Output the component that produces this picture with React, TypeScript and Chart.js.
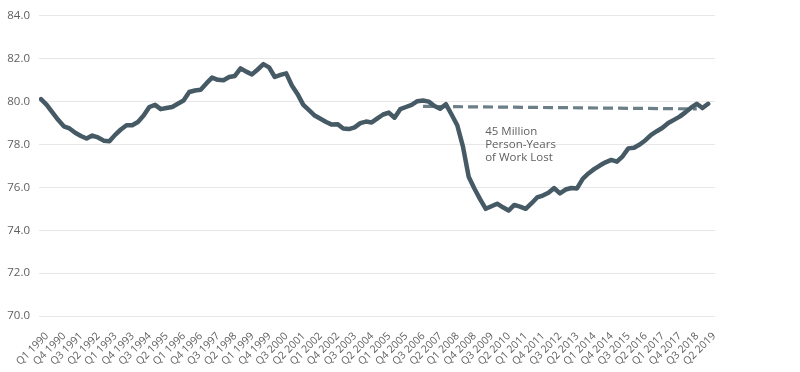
import React, { useEffect, useRef } from "react";
import { Chart, registerables } from "chart.js";

Chart.register(...registerables);

const firstYear = 1990;
const quarterCount = 118;
const quarterLabels: string[] = Array.from(
  { length: quarterCount },
  (_, i) => `Q${(i % 4) + 1} ${firstYear + Math.floor(i / 4)}`
);

// Prime-age employment rate (%), quarterly, Q1 1990 – Q2 2019
const employmentRate: number[] = [
  80.12, 79.85, 79.5, 79.15, 78.85, 78.75, 78.55, 78.4, 78.28, 78.42,
  78.33, 78.18, 78.15, 78.45, 78.7, 78.9, 78.9, 79.05, 79.35, 79.75,
  79.85, 79.65, 79.7, 79.75, 79.9, 80.05, 80.45, 80.52, 80.55, 80.85,
  81.12, 81.02, 81.0, 81.15, 81.2, 81.55, 81.4, 81.27, 81.5, 81.75,
  81.6, 81.15, 81.25, 81.32, 80.75, 80.35, 79.85, 79.6, 79.35, 79.2,
  79.05, 78.93, 78.95, 78.75, 78.72, 78.8, 79.0, 79.07, 79.03, 79.22,
  79.4, 79.49, 79.25, 79.65, 79.75, 79.85, 80.02, 80.05, 80.0, 79.8,
  79.67, 79.88, 79.4, 78.9, 77.9, 76.5, 75.95, 75.45, 75.0, 75.12,
  75.24, 75.07, 74.92, 75.18, 75.1, 75.0, 75.25, 75.53, 75.62, 75.75,
  75.97, 75.72, 75.9, 75.97, 75.95, 76.4, 76.65, 76.85, 77.02, 77.17,
  77.28, 77.2, 77.45, 77.82, 77.85, 78.0, 78.2, 78.45, 78.62, 78.78,
  79.0, 79.15, 79.3, 79.5, 79.72, 79.9, 79.7, 79.9,
];

// Pre-recession trend line (dashed)
const trendQuarters: string[] = ["Q4 2006", "Q4 2018"];
const trendValues: number[] = [79.78, 79.66];

const tickLabels: string[] = [
  "Q1 1990", "Q4 1990", "Q3 1991", "Q2 1992", "Q1 1993", "Q4 1993", "Q3 1994", "Q2 1995",
  "Q1 1996", "Q4 1996", "Q3 1997", "Q2 1998", "Q1 1999", "Q4 1999", "Q3 2000", "Q2 2001",
  "Q1 2002", "Q4 2002", "Q3 2003", "Q2 2004", "Q1 2005", "Q4 2005", "Q3 2006", "Q2 2007",
  "Q1 2008", "Q4 2008", "Q3 2009", "Q2 2010", "Q1 2011", "Q4 2011", "Q3 2012", "Q2 2013",
  "Q1 2014", "Q4 2014", "Q3 2015", "Q2 2016", "Q1 2017", "Q4 2017", "Q3 2018", "Q2 2019",
];

const yMin = 70;
const yMax = 84;
const yStep = 2;

const annotationLines: string[] = ["45 Million", "Person-Years", "of Work Lost"];
const annotationX = 77.9; // in quarter index units
const annotationY = 78.58; // in value units

const FONT = "'Open Sans', 'DejaVu Sans', sans-serif";
const TEXT_COLOR = "#5f5f5f";

export default function App() {
  const canvasRef = useRef<HTMLCanvasElement | null>(null);

  useEffect(() => {
    document.body.style.margin = "0";
    const canvas = canvasRef.current;
    if (!canvas) return;

    const tickIdx = tickLabels.map((l) => quarterLabels.indexOf(l));

    const annotationPlugin = {
      id: "textAnnotation",
      afterDatasetsDraw(chart: any) {
        const ctx = chart.ctx;
        const xs = chart.scales.x;
        const ys = chart.scales.y;
        const px = xs.getPixelForValue(annotationX);
        const py = ys.getPixelForValue(annotationY);
        ctx.save();
        ctx.font = `11.5px ${FONT}`;
        ctx.fillStyle = TEXT_COLOR;
        ctx.textAlign = "left";
        ctx.textBaseline = "middle";
        annotationLines.forEach((line, k) => {
          ctx.fillText(line, px, py + k * 13);
        });
        ctx.restore();
      },
    };

    const chart = new Chart(canvas, {
      type: "line",
      data: {
        datasets: [
          {
            data: employmentRate.map((v, i) => ({ x: i, y: v })),
            borderColor: "#455a64",
            borderWidth: 4.5,
            pointRadius: 0,
            tension: 0,
            borderJoinStyle: "round",
            borderCapStyle: "round",
            fill: false,
          },
          {
            data: trendQuarters.map((q, k) => ({
              x: quarterLabels.indexOf(q),
              y: trendValues[k],
            })),
            borderColor: "#6c7e87",
            borderWidth: 3.2,
            borderDash: [10, 5],
            pointRadius: 0,
            tension: 0,
            fill: false,
          },
        ],
      },
      options: {
        responsive: false,
        animation: false,
        layout: { padding: { top: 14, right: 85, left: 0, bottom: 0 } },
        plugins: {
          legend: { display: false },
          tooltip: { enabled: false },
        },
        scales: {
          x: {
            type: "linear",
            min: -0.35,
            max: 118.2,
            afterBuildTicks: (s: any) => {
              s.ticks = tickIdx.map((v) => ({ value: v }));
            },
            afterFit: (s: any) => {
              s.height = 56;
            },
            grid: { display: false },
            border: { display: false },
            ticks: {
              autoSkip: false,
              minRotation: 45,
              maxRotation: 45,
              padding: 6,
              labelOffset: 6,
              color: TEXT_COLOR,
              font: { family: FONT, size: 10.5 },
              callback: (v: any) => quarterLabels[Math.round(Number(v))] ?? "",
            },
          },
          y: {
            min: yMin,
            max: yMax,
            afterFit: (s: any) => {
              s.width = 39;
            },
            grid: { color: "#e7e7e7", lineWidth: 1, drawTicks: false },
            border: { display: false },
            ticks: {
              stepSize: yStep,
              padding: 9,
              color: TEXT_COLOR,
              font: { family: FONT, size: 11.5 },
              callback: (v: any) => Number(v).toFixed(1),
            },
          },
        },
      },
      plugins: [annotationPlugin],
    } as any);

    return () => chart.destroy();
  }, []);

  return (
    <div style={{ width: 800, height: 372, background: "#fff" }}>
      <canvas ref={canvasRef} width={800} height={372} style={{ display: "block" }} />
    </div>
  );
}
